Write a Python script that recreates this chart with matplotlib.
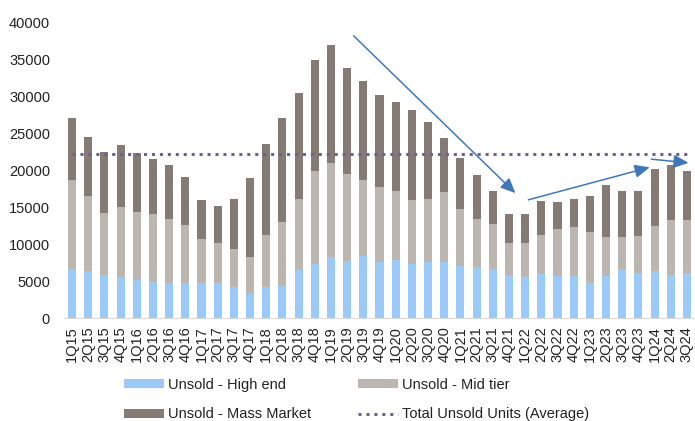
import numpy as np
import matplotlib
matplotlib.use('Agg')
import matplotlib.pyplot as plt

plt.rcParams['font.family'] = ['Liberation Sans', 'DejaVu Sans']

quarters = ['1Q15', '2Q15', '3Q15', '4Q15', '1Q16', '2Q16', '3Q16', '4Q16',
            '1Q17', '2Q17', '3Q17', '4Q17', '1Q18', '2Q18', '3Q18', '4Q18',
            '1Q19', '2Q19', '3Q19', '4Q19', '1Q20', '2Q20', '3Q20', '4Q20',
            '1Q21', '2Q21', '3Q21', '4Q21', '1Q22', '2Q22', '3Q22', '4Q22',
            '1Q23', '2Q23', '3Q23', '4Q23', '1Q24', '2Q24', '3Q24']

high_end = [6600, 6300, 5800, 5500, 5200, 4900, 4700, 4800, 4700, 4700, 4150, 3250,
            4150, 4300, 6500, 7300, 8200, 7750, 8350, 7600, 7900, 7300, 7600, 7600,
            7000, 6950, 6700, 5800, 5600, 5900, 5700, 5700, 4800, 5700, 6500, 6050,
            6300, 5800, 6050]
mid_tier = [12100, 10200, 8450, 9500, 9200, 9200, 8700, 7800, 6000, 5400, 5250, 5050,
            7050, 8700, 9600, 12600, 12800, 11750, 10350, 10100, 9300, 8700, 8500, 9400,
            7700, 6450, 6000, 4350, 4550, 5400, 6400, 6600, 6900, 5250, 4400, 5050,
            6150, 7400, 7250]
mass_market = [8400, 8000, 8250, 8400, 7900, 7400, 7300, 6500, 5300, 5000, 6700, 10600,
               12300, 14100, 14400, 15000, 15900, 14300, 13400, 12500, 12000, 12100, 10400, 7400,
               6950, 6000, 4500, 3950, 3950, 4500, 3600, 3800, 4850, 7000, 6300, 6100,
               7750, 7450, 6600]

# trend arrows: (x_start, y_start, x_end, y_end) in bar index / units
trend_arrows = [(17.4, 38200, 27.4, 16900),
                (28.2, 16000, 35.7, 20400),
                (35.8, 21500, 38.1, 21000)]

x = np.arange(len(quarters))
high = np.array(high_end)
mid = np.array(mid_tier)
mass = np.array(mass_market)
total = high + mid + mass
avg = total.mean()

fig = plt.figure(figsize=(6.95, 4.21), dpi=100)
ax = fig.add_axes([64 / 695, 1 - 318 / 421, 631 / 695, (318 - 22.5) / 421])

w = 0.5
b_high = ax.bar(x, high, w, color='#9ccaf8')
b_mid = ax.bar(x, mid, w, bottom=high, color='#bcb6b0')
b_mass = ax.bar(x, mass, w, bottom=high + mid, color='#857b74')
avg_line, = ax.plot(x, [avg] * len(x), color='#6e5f96', linestyle=(0, (1, 1.6)), lw=2.2)

for x0, y0, x1, y1 in trend_arrows:
    ax.annotate('', xy=(x1, y1), xytext=(x0, y0),
                arrowprops=dict(arrowstyle='-|>,head_length=0.9,head_width=0.4',
                                color='#3f78b9', lw=1.1, shrinkA=0, shrinkB=0))

ax.set_xlim(-0.5, 38.5)
ax.set_ylim(0, 40000)
ax.set_yticks(range(0, 40001, 5000))
ax.set_xticks(x)
ax.set_xticklabels(quarters, rotation=90)
ax.tick_params(axis='both', length=0, labelsize=10.5, colors='#222222')
ax.tick_params(axis='y', pad=10)
ax.tick_params(axis='x', pad=6)
for s in ['top', 'right', 'left']:
    ax.spines[s].set_visible(False)
ax.spines['bottom'].set_color('#d9d9d9')

leg_kw = dict(loc='upper left', frameon=False, fontsize=10.5, handlelength=2.75,
              handleheight=0.55, handletextpad=0.3, labelspacing=1.05,
              borderpad=0, borderaxespad=0, labelcolor='#222222')
fig.legend([b_high, b_mass], ['Unsold - High end', 'Unsold - Mass Market'],
           bbox_to_anchor=(124 / 695, 1 - 378 / 421), **leg_kw)
fig.legend([b_mid, avg_line], ['Unsold - Mid tier', 'Total Unsold Units (Average)'],
           bbox_to_anchor=(358 / 695, 1 - 378 / 421), **leg_kw)

fig.savefig('out.png', dpi=100)
